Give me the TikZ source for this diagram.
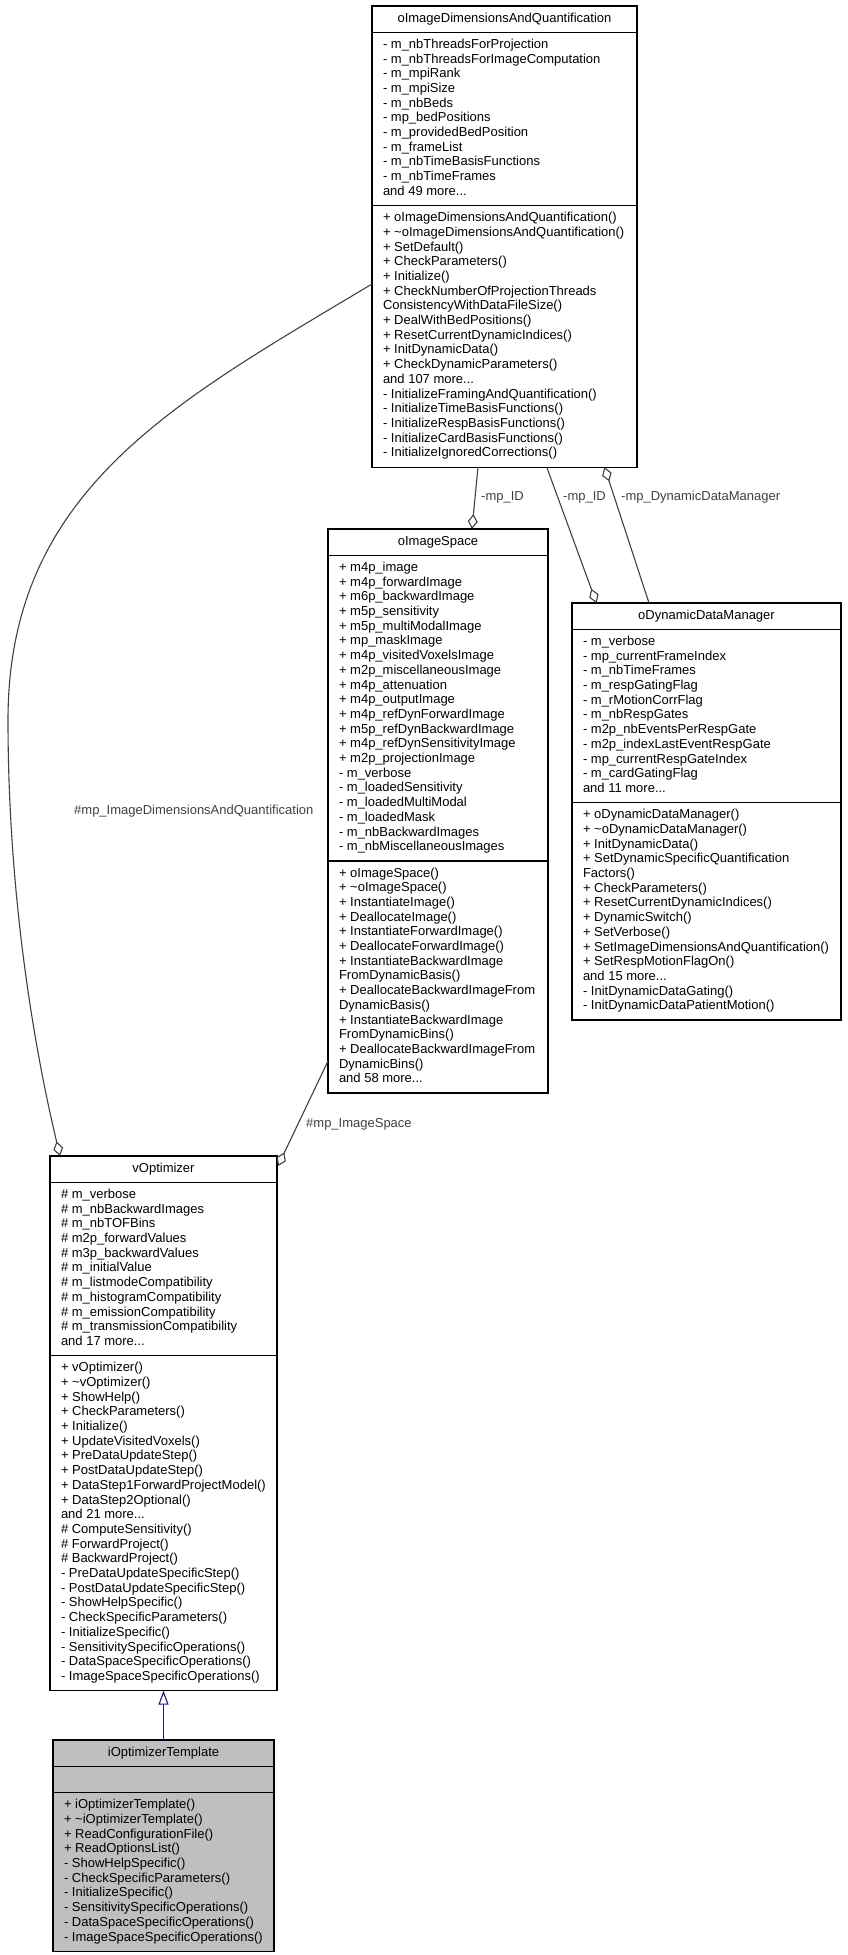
\documentclass[tikz,border=0pt]{standalone}
\usepackage{fontspec}
\setmainfont{Liberation Sans}
\usetikzlibrary{shapes.multipart,arrows.meta}

\definecolor{edgegrey}{RGB}{64,64,64}
\definecolor{inhblue}{RGB}{25,25,112}
\definecolor{mainfill}{RGB}{191,191,191}
\newcommand\members[1]{\strut#1\strut}

\tikzset{
  umlclass/.style={draw=black, line width=1.2pt, fill=white,
    rectangle split, rectangle split parts=3,
    rectangle split part align={center,left,left}, align=left,
    anchor=north west, inner xsep=11pt, inner ysep=5.2pt, outer sep=0pt,
    font=\fontsize{13}{14.7}\selectfont},
  aggr/.style={draw=edgegrey, line width=1.1pt,
    -{Diamond[open,length=15pt,width=10pt]}},
  inherit/.style={draw=inhblue, line width=1.1pt,
    -{Triangle[open,length=14pt,width=10pt]}},
  rolelabel/.style={anchor=base west, inner sep=0pt, text=edgegrey,
    font=\fontsize{13}{14.7}\selectfont}
}

\begin{document}
\begin{tikzpicture}[x=1pt,y=-1pt]
\useasboundingbox (0,0) rectangle (848,1955);

% classes
\node[umlclass, minimum width=265pt] (dims) at (372,6)
  {\members{oImageDimensionsAndQuantification}
  \nodepart{two}\members{- m\_nbThreadsForProjection\\- m\_nbThreadsForImageComputation\\- m\_mpiRank\\- m\_mpiSize\\- m\_nbBeds\\- mp\_bedPositions\\- m\_providedBedPosition\\- m\_frameList\\- m\_nbTimeBasisFunctions\\- m\_nbTimeFrames\\and 49 more...}
  \nodepart{three}\members{+ oImageDimensionsAndQuantification()\\+ \textasciitilde{}oImageDimensionsAndQuantification()\\+ SetDefault()\\+ CheckParameters()\\+ Initialize()\\+ CheckNumberOfProjectionThreads\\ConsistencyWithDataFileSize()\\+ DealWithBedPositions()\\+ ResetCurrentDynamicIndices()\\+ InitDynamicData()\\+ CheckDynamicParameters()\\and 107 more...\\- InitializeFramingAndQuantification()\\- InitializeTimeBasisFunctions()\\- InitializeRespBasisFunctions()\\- InitializeCardBasisFunctions()\\- InitializeIgnoredCorrections()}};

\node[umlclass, minimum width=220pt] (imgspace) at (328,529)
  {\members{oImageSpace}
  \nodepart{two}\members{+ m4p\_image\\+ m4p\_forwardImage\\+ m6p\_backwardImage\\+ m5p\_sensitivity\\+ m5p\_multiModalImage\\+ mp\_maskImage\\+ m4p\_visitedVoxelsImage\\+ m2p\_miscellaneousImage\\+ m4p\_attenuation\\+ m4p\_outputImage\\+ m4p\_refDynForwardImage\\+ m5p\_refDynBackwardImage\\+ m4p\_refDynSensitivityImage\\+ m2p\_projectionImage\\- m\_verbose\\- m\_loadedSensitivity\\- m\_loadedMultiModal\\- m\_loadedMask\\- m\_nbBackwardImages\\- m\_nbMiscellaneousImages}
  \nodepart{three}\members{+ oImageSpace()\\+ \textasciitilde{}oImageSpace()\\+ InstantiateImage()\\+ DeallocateImage()\\+ InstantiateForwardImage()\\+ DeallocateForwardImage()\\+ InstantiateBackwardImage\\FromDynamicBasis()\\+ DeallocateBackwardImageFrom\\DynamicBasis()\\+ InstantiateBackwardImage\\FromDynamicBins()\\+ DeallocateBackwardImageFrom\\DynamicBins()\\and 58 more...}};

\node[umlclass, minimum width=269pt] (ddm) at (572,603)
  {\members{oDynamicDataManager}
  \nodepart{two}\members{- m\_verbose\\- mp\_currentFrameIndex\\- m\_nbTimeFrames\\- m\_respGatingFlag\\- m\_rMotionCorrFlag\\- m\_nbRespGates\\- m2p\_nbEventsPerRespGate\\- m2p\_indexLastEventRespGate\\- mp\_currentRespGateIndex\\- m\_cardGatingFlag\\and 11 more...}
  \nodepart{three}\members{+ oDynamicDataManager()\\+ \textasciitilde{}oDynamicDataManager()\\+ InitDynamicData()\\+ SetDynamicSpecificQuantification\\Factors()\\+ CheckParameters()\\+ ResetCurrentDynamicIndices()\\+ DynamicSwitch()\\+ SetVerbose()\\+ SetImageDimensionsAndQuantification()\\+ SetRespMotionFlagOn()\\and 15 more...\\- InitDynamicDataGating()\\- InitDynamicDataPatientMotion()}};

\node[umlclass, minimum width=227pt] (vopt) at (50,1156)
  {\members{vOptimizer}
  \nodepart{two}\members{\# m\_verbose\\\# m\_nbBackwardImages\\\# m\_nbTOFBins\\\# m2p\_forwardValues\\\# m3p\_backwardValues\\\# m\_initialValue\\\# m\_listmodeCompatibility\\\# m\_histogramCompatibility\\\# m\_emissionCompatibility\\\# m\_transmissionCompatibility\\and 17 more...}
  \nodepart{three}\members{+ vOptimizer()\\+ \textasciitilde{}vOptimizer()\\+ ShowHelp()\\+ CheckParameters()\\+ Initialize()\\+ UpdateVisitedVoxels()\\+ PreDataUpdateStep()\\+ PostDataUpdateStep()\\+ DataStep1ForwardProjectModel()\\+ DataStep2Optional()\\and 21 more...\\\# ComputeSensitivity()\\\# ForwardProject()\\\# BackwardProject()\\- PreDataUpdateSpecificStep()\\- PostDataUpdateSpecificStep()\\- ShowHelpSpecific()\\- CheckSpecificParameters()\\- InitializeSpecific()\\- SensitivitySpecificOperations()\\- DataSpaceSpecificOperations()\\- ImageSpaceSpecificOperations()}};

\node[umlclass, minimum width=221pt, fill=mainfill] (tmpl) at (53,1740)
  {\members{iOptimizerTemplate}
  \nodepart{two}\members{}
  \nodepart{three}\members{+ iOptimizerTemplate()\\+ \textasciitilde{}iOptimizerTemplate()\\+ ReadConfigurationFile()\\+ ReadOptionsList()\\- ShowHelpSpecific()\\- CheckSpecificParameters()\\- InitializeSpecific()\\- SensitivitySpecificOperations()\\- DataSpaceSpecificOperations()\\- ImageSpaceSpecificOperations()}};

% relations
\draw[aggr] ([yshift=-278pt]dims.north west) .. controls (175,402) and (8,490) .. (8,720)
  .. controls (8,880) and (30,1030) .. ([xshift=10pt]vopt.north west);
\draw[aggr] ([yshift=32pt]imgspace.south west) -- ([xshift=1pt,yshift=-10pt]vopt.north east);
\draw[aggr] ([xshift=106pt]dims.south west) -- ([xshift=144pt]imgspace.north west);
\draw[aggr] ([xshift=174.7pt]dims.south west) -- ([xshift=24.5pt]ddm.north west);
\draw[aggr] ([xshift=77pt]ddm.north west) -- ([xshift=232.5pt]dims.south west);
\draw[inherit] (tmpl.north) -- (vopt.south);

% role labels
\node[rolelabel] (lbldims) at (74,814) {\#mp\_ImageDimensionsAndQuantification};
\node[rolelabel] (lblspace) at (306,1127) {\#mp\_ImageSpace};
\node[rolelabel] (lblidone) at (481,500) {-mp\_ID};
\node[rolelabel] (lblidtwo) at (563,500) {-mp\_ID};
\node[rolelabel] (lblddm) at (621,500) {-mp\_DynamicDataManager};
\end{tikzpicture}
\end{document}
